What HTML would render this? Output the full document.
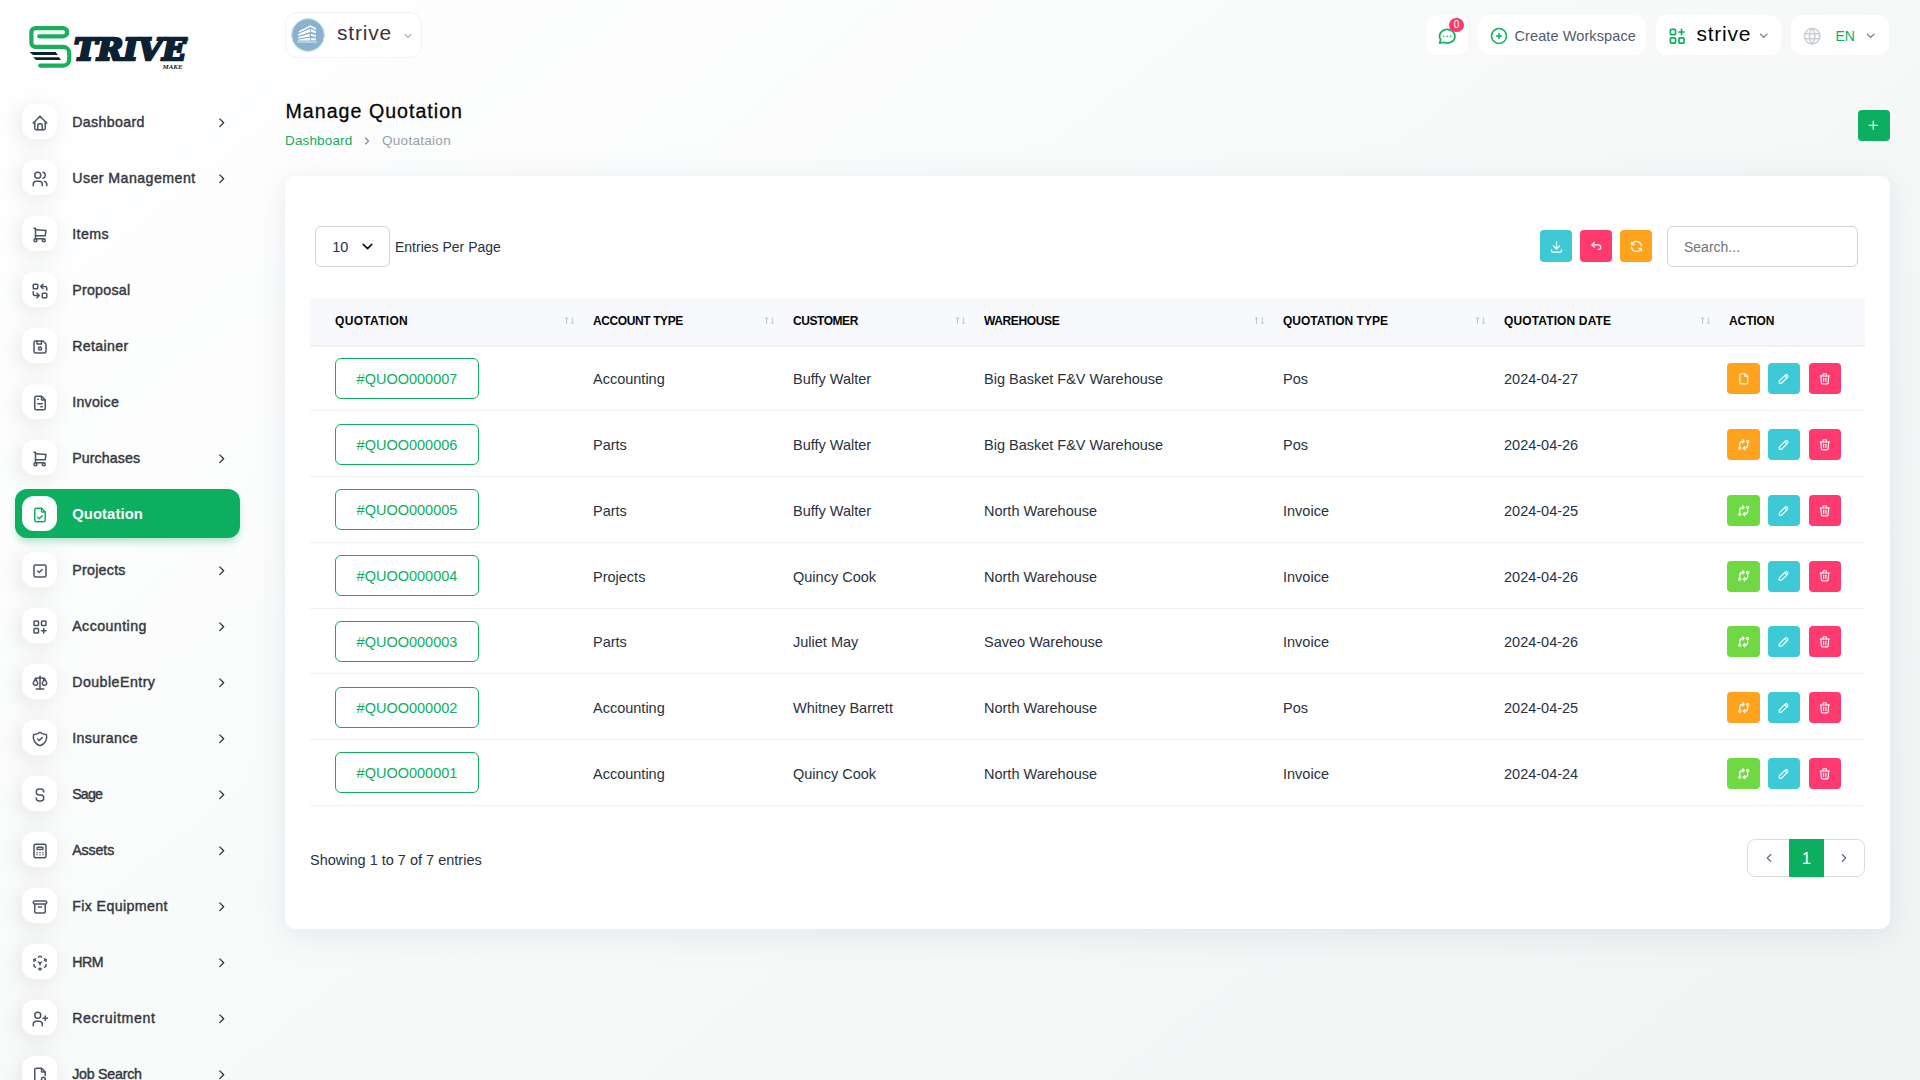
<!DOCTYPE html>
<html lang="en"><head><meta charset="utf-8"><title>Manage Quotation</title>
<style>
*{box-sizing:border-box;margin:0;padding:0}
html,body{width:1920px;height:1080px;overflow:hidden}
body{font-family:"Liberation Sans",sans-serif;font-size:14px;color:#293240;position:relative;
 background:linear-gradient(141.55deg,rgba(240,244,243,0) 3.46%,#f0f4f3 99.86%),#fff}
.ic{display:block;flex:none}
.abs{position:absolute}
/* sidebar */
nav{position:absolute;left:0;top:0;width:280px;height:1080px}
.logo{position:absolute;left:20px;top:15px}
.mi{position:absolute;left:15px;width:225px;height:49px;border-radius:12px;color:#34383e}
.mi .box{position:absolute;left:7px;top:7px;width:35px;height:35px;border-radius:12px;background:#fff;
 box-shadow:-3px 4px 23px rgba(0,0,0,.1);display:flex;align-items:center;justify-content:center;color:#4b5565;padding-top:3.500px}
.mi .t{position:absolute;left:57.200px;top:1px;line-height:49px;font-weight:400;font-size:14.200px;white-space:nowrap;-webkit-text-stroke:.42px currentColor}
.mi .ar{position:absolute;left:198.800px;top:18.100px;color:#333}
.mi.on{background:#0caf60;color:#fff;box-shadow:0 5px 7px -1px rgba(12,175,96,.3)}
.mi.on .box{color:#0caf60;box-shadow:none}
.mi.on .t{font-size:14.800px;font-weight:700;-webkit-text-stroke:0}
/* header */
.hb{position:absolute;top:15px;height:40px;background:#fff;border-radius:12px;display:flex;align-items:center}
.ws{position:absolute;left:285px;top:12px;width:137px;height:46px;background:#fff;border:1px solid #f1f1f1;border-radius:12px}
.ava{position:absolute;left:4.700px;top:4.700px;width:34.600px;height:34.600px;border-radius:50%;background:#8cb1d0;border:1px solid #c4ecd7;background-clip:padding-box}
.ava svg{position:absolute;left:-.7px;top:-.7px}
h4{position:absolute;left:285.500px;top:97.300px;font-size:19.600px;line-height:28px;font-weight:400;color:#060606;white-space:nowrap;-webkit-text-stroke:.3px #060606;letter-spacing:1.02px}
.bc{position:absolute;top:133.200px;font-size:13.500px;line-height:16px;white-space:nowrap}
.add{position:absolute;left:1858px;top:110px;width:32px;height:31px;border-radius:4px;background:#0caf60;color:#fff;display:flex;align-items:center;justify-content:center}
/* card */
.card{position:absolute;left:285px;top:176px;width:1605px;height:753px;background:#fff;border-radius:10px;box-shadow:0 6px 30px rgba(182,186,203,.3)}
.sel{position:absolute;left:30px;top:50px;width:75px;height:40.5px;border:1px solid #ced4da;border-radius:6px;background:#fff}
.sb{position:absolute;top:54px;width:32px;height:32px;border-radius:4px;color:#fff;display:flex;align-items:center;justify-content:center}
.search{position:absolute;left:1382px;top:50px;width:191px;height:40.5px;border:1px solid #ced4da;border-radius:6px;padding-left:16px;line-height:41px;color:#6c757d;font-size:14px}
table{position:absolute;left:25px;top:121.700px;width:1555px;border-collapse:separate;border-spacing:0;table-layout:fixed}
thead tr{background:#f8f9fd}
th{height:47px;text-align:left;padding-left:25px;font-size:12px;font-weight:700;color:#060606;position:relative;white-space:nowrap;letter-spacing:.1px}
td{height:65.750px;border-top:1px solid #f1f1f1;padding:17.700px 0 0 25px;font-size:14.500px;line-height:33px;color:#293240;white-space:nowrap;vertical-align:top}
tbody tr:first-child td{border-top-width:2px;padding-top:16.700px}
tbody tr:last-child td{height:66.750px;border-bottom:1px solid #f1f1f1}
.q{display:block;width:144px;height:40.800px;margin-top:-5.400px;border:1px solid #0caf60;border-radius:6px;color:#0caf60;text-align:center;line-height:40.800px;font-size:14.500px}
.srt{position:absolute;right:-6.500px;top:18px;color:#c6c7cc}
.acts{display:flex;margin-left:-2px}
.ab{width:32px;height:31px;border-radius:4px;color:#fff;display:flex;align-items:center;justify-content:center;margin-right:9px}
.ab.first{width:33px;margin-right:8px}
.w{background:#ffa21d}.i{background:#3ec9d6}.d{background:#ff3a6e}.s{background:#6fd943}
.info{position:absolute;left:25px;top:674px;line-height:20px;font-size:14.5px;white-space:nowrap}
.pg{position:absolute;left:1462px;top:663px;width:118px;height:38px;border:1px solid #d8dce3;border-radius:8px;background:#fff}
.pg .cur{position:absolute;left:41px;top:-1px;width:35px;height:38px;background:#0caf60;color:#fff;font-size:16px;line-height:40px;text-align:center}
</style></head>
<body>
<nav>
<svg class="logo" width="180" height="65" viewBox="20 15 180 65" role="img" aria-label="STRIVE MAKE"><title>STRIVE MAKE</title>
<path d="M39.2 36.3H63.100a4.100 4.100 0 0 0 0-8.200H35.500a4.100 4.100 0 0 0-4.100 4.100V42.800a4.100 4.100 0 0 0 4.100 4.100H63.100a6.100 6.100 0 0 1 6.100 6.100V59.500a6.100 6.100 0 0 1-6.100 6.100H40.200" fill="none" stroke="#1baf5d" stroke-width="4.200" stroke-linecap="round"/>
<path d="M29.500 52H55.800L57.700 55.100H33z" fill="#0c2233"/><path d="M33 57.200H59L61 60.100H36.200z" fill="#0c2233"/>
<circle cx="186.800" cy="39.600" r="1.900" fill="#1baf5d"/>
<text x="74" y="59.500" font-family="DejaVu Serif, Liberation Serif, serif" font-weight="700" font-style="italic" font-size="29.500" fill="#0c2233" stroke="#0c2233" stroke-width="2.500" stroke-linejoin="miter" textLength="112" lengthAdjust="spacingAndGlyphs">TRIVE</text>
<text x="162.500" y="68.700" font-family="Liberation Serif, serif" font-weight="700" font-style="italic" font-size="6.500" fill="#0c2233" textLength="20" lengthAdjust="spacingAndGlyphs">MAKE</text>
</svg>
<a class="mi" style="top:96.75px"><span class="box"><svg class="ic " width="18" height="18" viewBox="0 0 24 24" fill="none" stroke="currentColor" stroke-width="2" stroke-linecap="round" stroke-linejoin="round" style=""><path d="M5 12H3l9-9 9 9h-2"/><path d="M5 12v7a2 2 0 0 0 2 2h10a2 2 0 0 0 2-2v-7"/><path d="M9 21v-6a2 2 0 0 1 2-2h2a2 2 0 0 1 2 2v6"/></svg></span><span class="t" style="letter-spacing:0.36px">Dashboard</span><span class="ar"><svg class="ic " width="15.5" height="15.5" viewBox="0 0 24 24" fill="none" stroke="currentColor" stroke-width="2.05" stroke-linecap="round" stroke-linejoin="round" style=""><path d="M9 6l6 6-6 6"/></svg></span></a>
<a class="mi" style="top:152.75px"><span class="box"><svg class="ic " width="18" height="18" viewBox="0 0 24 24" fill="none" stroke="currentColor" stroke-width="2" stroke-linecap="round" stroke-linejoin="round" style=""><circle cx="9" cy="7" r="4"/><path d="M3 21v-2a4 4 0 0 1 4-4h4a4 4 0 0 1 4 4v2"/><path d="M16 3.13a4 4 0 0 1 0 7.75"/><path d="M21 21v-2a4 4 0 0 0-3-3.85"/></svg></span><span class="t" style="letter-spacing:0.45px">User Management</span><span class="ar"><svg class="ic " width="15.5" height="15.5" viewBox="0 0 24 24" fill="none" stroke="currentColor" stroke-width="2.05" stroke-linecap="round" stroke-linejoin="round" style=""><path d="M9 6l6 6-6 6"/></svg></span></a>
<a class="mi" style="top:208.75px"><span class="box"><svg class="ic " width="18" height="18" viewBox="0 0 24 24" fill="none" stroke="currentColor" stroke-width="2" stroke-linecap="round" stroke-linejoin="round" style=""><circle cx="6" cy="19" r="2"/><circle cx="17" cy="19" r="2"/><path d="M17 17H6V3H4"/><path d="M6 5l14 1-1 7H6"/></svg></span><span class="t" style="letter-spacing:0.45px">Items</span></a>
<a class="mi" style="top:264.75px"><span class="box"><svg class="ic " width="18" height="18" viewBox="0 0 24 24" fill="none" stroke="currentColor" stroke-width="2" stroke-linecap="round" stroke-linejoin="round" style=""><rect x="3" y="3" width="6" height="6" rx="1"/><rect x="15" y="15" width="6" height="6" rx="1"/><path d="M21 11V8a2 2 0 0 0-2-2h-6l3 3m0-6l-3 3"/><path d="M3 13v3a2 2 0 0 0 2 2h6l-3-3m0 6l3-3"/></svg></span><span class="t" style="letter-spacing:0.28px">Proposal</span></a>
<a class="mi" style="top:320.75px"><span class="box"><svg class="ic " width="18" height="18" viewBox="0 0 24 24" fill="none" stroke="currentColor" stroke-width="2" stroke-linecap="round" stroke-linejoin="round" style=""><path d="M6 4h10l4 4v10a2 2 0 0 1-2 2H6a2 2 0 0 1-2-2V6a2 2 0 0 1 2-2"/><circle cx="12" cy="14" r="2"/><path d="M14 4v4H8V4"/></svg></span><span class="t" style="letter-spacing:0.36px">Retainer</span></a>
<a class="mi" style="top:376.75px"><span class="box"><svg class="ic " width="18" height="18" viewBox="0 0 24 24" fill="none" stroke="currentColor" stroke-width="2" stroke-linecap="round" stroke-linejoin="round" style=""><path d="M14 3v4a1 1 0 0 0 1 1h4"/><path d="M17 21H7a2 2 0 0 1-2-2V5a2 2 0 0 1 2-2h7l5 5v11a2 2 0 0 1-2 2z"/><path d="M9 7h1"/><path d="M9 13h6"/><path d="M13 17h2"/></svg></span><span class="t" style="letter-spacing:0.28px">Invoice</span></a>
<a class="mi" style="top:432.75px"><span class="box"><svg class="ic " width="18" height="18" viewBox="0 0 24 24" fill="none" stroke="currentColor" stroke-width="2" stroke-linecap="round" stroke-linejoin="round" style=""><circle cx="6" cy="19" r="2"/><circle cx="17" cy="19" r="2"/><path d="M17 17H6V3H4"/><path d="M6 5l14 1-1 7H6"/></svg></span><span class="t" style="letter-spacing:0.1px">Purchases</span><span class="ar"><svg class="ic " width="15.5" height="15.5" viewBox="0 0 24 24" fill="none" stroke="currentColor" stroke-width="2.05" stroke-linecap="round" stroke-linejoin="round" style=""><path d="M9 6l6 6-6 6"/></svg></span></a>
<a class="mi on" style="top:488.75px"><span class="box"><svg class="ic " width="18" height="18" viewBox="0 0 24 24" fill="none" stroke="currentColor" stroke-width="2" stroke-linecap="round" stroke-linejoin="round" style=""><path d="M14 3v4a1 1 0 0 0 1 1h4"/><path d="M17 21H7a2 2 0 0 1-2-2V5a2 2 0 0 1 2-2h7l5 5v11a2 2 0 0 1-2 2z"/><path d="M9 15l2 2 4-4"/></svg></span><span class="t" style="letter-spacing:0.1px">Quotation</span></a>
<a class="mi" style="top:544.75px"><span class="box"><svg class="ic " width="18" height="18" viewBox="0 0 24 24" fill="none" stroke="currentColor" stroke-width="2" stroke-linecap="round" stroke-linejoin="round" style=""><rect x="4" y="4" width="16" height="16" rx="2"/><path d="M9 12l2 2 4-4"/></svg></span><span class="t" style="letter-spacing:0.29px">Projects</span><span class="ar"><svg class="ic " width="15.5" height="15.5" viewBox="0 0 24 24" fill="none" stroke="currentColor" stroke-width="2.05" stroke-linecap="round" stroke-linejoin="round" style=""><path d="M9 6l6 6-6 6"/></svg></span></a>
<a class="mi" style="top:600.75px"><span class="box"><svg class="ic " width="18" height="18" viewBox="0 0 24 24" fill="none" stroke="currentColor" stroke-width="2" stroke-linecap="round" stroke-linejoin="round" style=""><rect x="4" y="4" width="6" height="6" rx="1"/><rect x="14" y="4" width="6" height="6" rx="1"/><rect x="4" y="14" width="6" height="6" rx="1"/><path d="M14 17h6m-3-3v6"/></svg></span><span class="t" style="letter-spacing:0.45px">Accounting</span><span class="ar"><svg class="ic " width="15.5" height="15.5" viewBox="0 0 24 24" fill="none" stroke="currentColor" stroke-width="2.05" stroke-linecap="round" stroke-linejoin="round" style=""><path d="M9 6l6 6-6 6"/></svg></span></a>
<a class="mi" style="top:656.75px"><span class="box"><svg class="ic " width="18" height="18" viewBox="0 0 24 24" fill="none" stroke="currentColor" stroke-width="2" stroke-linecap="round" stroke-linejoin="round" style=""><path d="M7 20h10"/><path d="M6 6l6-1 6 1"/><path d="M12 3v17"/><path d="M9 12L6 6l-3 6a3 3 0 0 0 6 0"/><path d="M21 12l-3-6-3 6a3 3 0 0 0 6 0"/></svg></span><span class="t" style="letter-spacing:0.47px">DoubleEntry</span><span class="ar"><svg class="ic " width="15.5" height="15.5" viewBox="0 0 24 24" fill="none" stroke="currentColor" stroke-width="2.05" stroke-linecap="round" stroke-linejoin="round" style=""><path d="M9 6l6 6-6 6"/></svg></span></a>
<a class="mi" style="top:712.75px"><span class="box"><svg class="ic " width="18" height="18" viewBox="0 0 24 24" fill="none" stroke="currentColor" stroke-width="2" stroke-linecap="round" stroke-linejoin="round" style=""><path d="M9 12l2 2 4-4"/><path d="M12 3a12 12 0 0 0 8.500 3a12 12 0 0 1-8.500 15a12 12 0 0 1-8.500-15a12 12 0 0 0 8.500-3"/></svg></span><span class="t" style="letter-spacing:0.4px">Insurance</span><span class="ar"><svg class="ic " width="15.5" height="15.5" viewBox="0 0 24 24" fill="none" stroke="currentColor" stroke-width="2.05" stroke-linecap="round" stroke-linejoin="round" style=""><path d="M9 6l6 6-6 6"/></svg></span></a>
<a class="mi" style="top:768.75px"><span class="box"><svg class="ic " width="18" height="18" viewBox="0 0 24 24" fill="none" stroke="currentColor" stroke-width="2" stroke-linecap="round" stroke-linejoin="round" style=""><path d="M17 8a4 4 0 0 0-4-4h-2a4 4 0 0 0 0 8h2a4 4 0 0 1 0 8h-2a4 4 0 0 1-4-4"/></svg></span><span class="t" style="letter-spacing:-0.81px">Sage</span><span class="ar"><svg class="ic " width="15.5" height="15.5" viewBox="0 0 24 24" fill="none" stroke="currentColor" stroke-width="2.05" stroke-linecap="round" stroke-linejoin="round" style=""><path d="M9 6l6 6-6 6"/></svg></span></a>
<a class="mi" style="top:824.75px"><span class="box"><svg class="ic " width="18" height="18" viewBox="0 0 24 24" fill="none" stroke="currentColor" stroke-width="2" stroke-linecap="round" stroke-linejoin="round" style=""><rect x="4" y="3" width="16" height="18" rx="2"/><rect x="8" y="7" width="8" height="3" rx="1"/><path d="M8 14v.01M12 14v.01M16 14v.01M8 17v.01M12 17v.01M16 17v.01"/></svg></span><span class="t" style="letter-spacing:-0.1px">Assets</span><span class="ar"><svg class="ic " width="15.5" height="15.5" viewBox="0 0 24 24" fill="none" stroke="currentColor" stroke-width="2.05" stroke-linecap="round" stroke-linejoin="round" style=""><path d="M9 6l6 6-6 6"/></svg></span></a>
<a class="mi" style="top:880.75px"><span class="box"><svg class="ic " width="18" height="18" viewBox="0 0 24 24" fill="none" stroke="currentColor" stroke-width="2" stroke-linecap="round" stroke-linejoin="round" style=""><rect x="3" y="4" width="18" height="4" rx="2"/><path d="M5 8v10a2 2 0 0 0 2 2h10a2 2 0 0 0 2-2V8"/><path d="M10 12h4"/></svg></span><span class="t" style="letter-spacing:0.39px">Fix Equipment</span><span class="ar"><svg class="ic " width="15.5" height="15.5" viewBox="0 0 24 24" fill="none" stroke="currentColor" stroke-width="2.05" stroke-linecap="round" stroke-linejoin="round" style=""><path d="M9 6l6 6-6 6"/></svg></span></a>
<a class="mi" style="top:936.75px"><span class="box"><svg class="ic " width="18" height="18" viewBox="0 0 24 24" fill="none" stroke="currentColor" stroke-width="2" stroke-linecap="round" stroke-linejoin="round" style=""><path d="M6 17.600l-2-1.100v-2.500"/><path d="M4 10V7.500l2-1.100"/><path d="M10 4.100l2-1.100 2 1.100"/><path d="M18 6.400l2 1.100V10"/><path d="M20 14v2.500l-2 1.120"/><path d="M14 19.900L12 21l-2-1.100"/><path d="M12 12l2-1.100"/><path d="M18 8.600l2-1.100"/><path d="M12 12v2.500"/><path d="M12 18.500V21"/><path d="M12 12l-2-1.120"/><path d="M6 8.600L4 7.500"/></svg></span><span class="t" style="letter-spacing:-0.52px">HRM</span><span class="ar"><svg class="ic " width="15.5" height="15.5" viewBox="0 0 24 24" fill="none" stroke="currentColor" stroke-width="2.05" stroke-linecap="round" stroke-linejoin="round" style=""><path d="M9 6l6 6-6 6"/></svg></span></a>
<a class="mi" style="top:992.75px"><span class="box"><svg class="ic " width="18" height="18" viewBox="0 0 24 24" fill="none" stroke="currentColor" stroke-width="2" stroke-linecap="round" stroke-linejoin="round" style=""><circle cx="9" cy="7" r="4"/><path d="M3 21v-2a4 4 0 0 1 4-4h4a4 4 0 0 1 4 4v2"/><path d="M16 11h6m-3-3v6"/></svg></span><span class="t" style="letter-spacing:0.63px">Recruitment</span><span class="ar"><svg class="ic " width="15.5" height="15.5" viewBox="0 0 24 24" fill="none" stroke="currentColor" stroke-width="2.05" stroke-linecap="round" stroke-linejoin="round" style=""><path d="M9 6l6 6-6 6"/></svg></span></a>
<a class="mi" style="top:1048.75px"><span class="box"><svg class="ic " width="18" height="18" viewBox="0 0 24 24" fill="none" stroke="currentColor" stroke-width="2" stroke-linecap="round" stroke-linejoin="round" style=""><path d="M14 3v4a1 1 0 0 0 1 1h4"/><path d="M12 21H7a2 2 0 0 1-2-2V5a2 2 0 0 1 2-2h7l5 5v4.500"/><circle cx="16.500" cy="17.500" r="2.500"/><path d="M18.500 19.500L21 22"/></svg></span><span class="t" style="letter-spacing:-0.22px">Job Search</span><span class="ar"><svg class="ic " width="15.5" height="15.5" viewBox="0 0 24 24" fill="none" stroke="currentColor" stroke-width="2.05" stroke-linecap="round" stroke-linejoin="round" style=""><path d="M9 6l6 6-6 6"/></svg></span></a>
</nav>
<header>
<div class="ws"><span class="ava"><svg width="34" height="34" viewBox="0 0 34 34"><g fill="#fff">
<path d="M7.700 13.200L19.400 7.300L25 10.300V12L19.400 9.100L8.200 14.400z"/>
<path d="M7.100 16.100L19 11V14L7.100 17.900z"/><path d="M19.900 11L24.900 13.300V15.200L19.900 13.800z"/>
<path d="M7.100 19.300L18.600 15.800V18.400L7.100 20.400z"/><path d="M19.900 15.800L24.900 17.200V18.900L19.900 18z"/>
<path d="M7.800 21.600L19 19.800V22.600H7.400z"/><path d="M19.900 20L24.900 20.500V22.300H19.900z"/>
<rect x="6" y="22.800" width="20.200" height="2.200" opacity=".38"/></g></svg></span>
<span class="abs" style="left:51px;top:5.600px;font-size:21px;line-height:28px;color:#45303a;letter-spacing:.8px">strive</span>
<span class="abs" style="left:116px;top:17px;color:#6b7280"><svg class="ic " width="12" height="12" viewBox="0 0 24 24" fill="none" stroke="currentColor" stroke-width="2" stroke-linecap="round" stroke-linejoin="round" style=""><path d="M6 9l6 6 6-6"/></svg></span></div>
<div class="hb" style="left:1426px;width:42px"><span class="abs" style="left:11px;top:11px;color:#0caf60"><svg class="ic " width="20.5" height="20.5" viewBox="0 0 24 24" fill="none" stroke="currentColor" stroke-width="1.9" stroke-linecap="round" stroke-linejoin="round" style=""><path d="M3 20l1.300-3.900a9 8 0 1 1 3.400 2.900L3 20"/><path d="M12 12v.01M8 12v.01M16 12v.01"/></svg></span><span class="abs" style="left:23.300px;top:2.800px;width:14.600px;height:14.600px;border-radius:50%;background:#ff3a6e;color:#fff;font-size:10px;line-height:14.600px;text-align:center">0</span></div>
<div class="hb" style="left:1478px;width:168px"><span class="abs" style="left:11px;top:10.500px;color:#0caf60"><svg class="ic " width="20" height="20" viewBox="0 0 24 24" fill="none" stroke="currentColor" stroke-width="1.9" stroke-linecap="round" stroke-linejoin="round" style=""><circle cx="12" cy="12" r="9"/><path d="M9 12h6M12 9v6"/></svg></span><span class="abs" style="left:36.500px;top:10.700px;line-height:20px;font-size:14.500px;color:#525b69;white-space:nowrap;letter-spacing:.1px">Create Workspace</span></div>
<div class="hb" style="left:1656px;width:125px"><span class="abs" style="left:11px;top:10.500px;color:#0caf60"><svg class="ic " width="20.5" height="20.5" viewBox="0 0 24 24" fill="none" stroke="currentColor" stroke-width="2" stroke-linecap="round" stroke-linejoin="round" style=""><rect x="4" y="4" width="6" height="6" rx="1"/><rect x="4" y="14" width="6" height="6" rx="1"/><rect x="14" y="14" width="6" height="6" rx="1"/><path d="M14 7h6m-3-3v6"/></svg></span><span class="abs" style="left:40.500px;top:5.400px;font-size:21px;line-height:28px;color:#060606;letter-spacing:.75px">strive</span><span class="abs" style="left:100.500px;top:13.500px;color:#6b7280"><svg class="ic " width="13.5" height="13.5" viewBox="0 0 24 24" fill="none" stroke="currentColor" stroke-width="2" stroke-linecap="round" stroke-linejoin="round" style=""><path d="M6 9l6 6 6-6"/></svg></span></div>
<div class="hb" style="left:1791px;width:98px"><span class="abs" style="left:10.500px;top:10.500px;color:#c9cdd4"><svg class="ic " width="20.5" height="20.5" viewBox="0 0 24 24" fill="none" stroke="currentColor" stroke-width="1.8" stroke-linecap="round" stroke-linejoin="round" style=""><circle cx="12" cy="12" r="9"/><path d="M3.600 9h16.800M3.600 15h16.800"/><path d="M11.500 3a17 17 0 0 0 0 18"/><path d="M12.500 3a17 17 0 0 1 0 18"/></svg></span><span class="abs" style="left:44.500px;top:10.800px;line-height:20px;font-size:14px;color:#0caf60">EN</span><span class="abs" style="left:73px;top:13.500px;color:#6b7280"><svg class="ic " width="13.5" height="13.5" viewBox="0 0 24 24" fill="none" stroke="currentColor" stroke-width="2" stroke-linecap="round" stroke-linejoin="round" style=""><path d="M6 9l6 6 6-6"/></svg></span></div>
</header>
<main>
<h4>Manage Quotation</h4>
<span class="bc" style="left:285px;color:#0caf60;letter-spacing:.15px">Dashboard</span><span class="bc" style="left:361px;top:134.500px;color:#7d838c"><svg class="ic " width="12" height="12" viewBox="0 0 24 24" fill="none" stroke="currentColor" stroke-width="2.3" stroke-linecap="round" stroke-linejoin="round" style=""><path d="M9 6l6 6-6 6"/></svg></span><span class="bc" style="left:382px;color:#9a9fa7;letter-spacing:.29px">Quotataion</span>
<a class="add" style="padding-right:.6px"><svg class="ic " width="14.5" height="14.5" viewBox="0 0 24 24" fill="none" stroke="currentColor" stroke-width="1.9" stroke-linecap="round" stroke-linejoin="round" style=""><path d="M12 5v14M5 12h14"/></svg></a>
<section class="card">
<div class="sel"><span class="abs" style="left:16.300px;top:0;line-height:41px;font-size:14.500px;color:#293240">10</span><span class="abs" style="left:43px;top:10.500px;color:#111"><svg class="ic " width="17" height="17" viewBox="0 0 24 24" fill="none" stroke="currentColor" stroke-width="2.2" stroke-linecap="round" stroke-linejoin="round" style=""><path d="M6 9l6 6 6-6"/></svg></span></div><span class="abs" style="left:110px;top:60.500px;line-height:20px;font-size:14px;white-space:nowrap">Entries Per Page</span>
<a class="sb i" style="left:1255px"><svg class="ic " width="15" height="15" viewBox="0 0 24 24" fill="none" stroke="currentColor" stroke-width="2" stroke-linecap="round" stroke-linejoin="round" style=""><path d="M4 17v2a2 2 0 0 0 2 2h12a2 2 0 0 0 2-2v-2"/><path d="M7 11l5 5 5-5"/><path d="M12 4v12"/></svg></a><a class="sb d" style="left:1295px"><svg class="ic " width="14" height="14" viewBox="0 0 24 24" fill="none" stroke="currentColor" stroke-width="2" stroke-linecap="round" stroke-linejoin="round" style=""><path d="M9 14l-4-4 4-4"/><path d="M5 10h11a4 4 0 1 1 0 8h-1"/></svg></a><a class="sb w" style="left:1335px"><svg class="ic " width="15" height="15" viewBox="0 0 24 24" fill="none" stroke="currentColor" stroke-width="2" stroke-linecap="round" stroke-linejoin="round" style=""><path d="M20 11A8.100 8.100 0 0 0 4.500 9M4 5v4h4"/><path d="M4 13a8.100 8.100 0 0 0 15.500 2M20 19v-4h-4"/></svg></a>
<div class="search">Search...</div>
<table><colgroup><col style="width:258px"><col style="width:200px"><col style="width:191px"><col style="width:299px"><col style="width:221px"><col style="width:225px"><col style="width:161px"></colgroup>
<thead><tr><th style="letter-spacing:0.32px">QUOTATION<svg class="srt" width="11" height="9" viewBox="0 0 11 9" fill="none" stroke="currentColor" stroke-width="1"><path d="M2.500 8.100V1.500M1 3L2.500 1.500L4 3M8.400 1.300V7.900M6.900 6.400L8.400 7.900L9.900 6.400"/></svg></th><th style="letter-spacing:-0.4px">ACCOUNT TYPE<svg class="srt" width="11" height="9" viewBox="0 0 11 9" fill="none" stroke="currentColor" stroke-width="1"><path d="M2.500 8.100V1.500M1 3L2.500 1.500L4 3M8.400 1.300V7.900M6.900 6.400L8.400 7.900L9.900 6.400"/></svg></th><th style="letter-spacing:-0.45px">CUSTOMER<svg class="srt" width="11" height="9" viewBox="0 0 11 9" fill="none" stroke="currentColor" stroke-width="1"><path d="M2.500 8.100V1.500M1 3L2.500 1.500L4 3M8.400 1.300V7.900M6.900 6.400L8.400 7.900L9.900 6.400"/></svg></th><th style="letter-spacing:-0.38px">WAREHOUSE<svg class="srt" width="11" height="9" viewBox="0 0 11 9" fill="none" stroke="currentColor" stroke-width="1"><path d="M2.500 8.100V1.500M1 3L2.500 1.500L4 3M8.400 1.300V7.900M6.900 6.400L8.400 7.900L9.900 6.400"/></svg></th><th style="letter-spacing:0px">QUOTATION TYPE<svg class="srt" width="11" height="9" viewBox="0 0 11 9" fill="none" stroke="currentColor" stroke-width="1"><path d="M2.500 8.100V1.500M1 3L2.500 1.500L4 3M8.400 1.300V7.900M6.900 6.400L8.400 7.900L9.900 6.400"/></svg></th><th style="letter-spacing:0.13px">QUOTATION DATE<svg class="srt" width="11" height="9" viewBox="0 0 11 9" fill="none" stroke="currentColor" stroke-width="1"><path d="M2.500 8.100V1.500M1 3L2.500 1.500L4 3M8.400 1.300V7.900M6.900 6.400L8.400 7.900L9.900 6.400"/></svg></th><th style="letter-spacing:-0.1px">ACTION</th></tr></thead>
<tbody>
<tr><td><a class="q">#QUOO000007</a></td><td>Accounting</td><td>Buffy Walter</td><td>Big Basket F&amp;V Warehouse</td><td>Pos</td><td>2024-04-27</td><td><div class="acts"><a class="ab first w"><svg class="ic " width="13.5" height="13.5" viewBox="0 0 24 24" fill="none" stroke="currentColor" stroke-width="2" stroke-linecap="round" stroke-linejoin="round" style=""><path d="M14 3v4a1 1 0 0 0 1 1h4"/><path d="M17 21H7a2 2 0 0 1-2-2V5a2 2 0 0 1 2-2h7l5 5v11a2 2 0 0 1-2 2z"/></svg></a><a class="ab i"><svg class="ic " width="13.5" height="13.5" viewBox="0 0 24 24" fill="none" stroke="currentColor" stroke-width="2" stroke-linecap="round" stroke-linejoin="round" style=""><path d="M4 20h4L18.500 9.500a2.828 2.828 0 1 0-4-4L4 16v4"/><path d="M13.500 6.500l4 4"/></svg></a><a class="ab d"><svg class="ic " width="13.5" height="13.5" viewBox="0 0 24 24" fill="none" stroke="currentColor" stroke-width="2" stroke-linecap="round" stroke-linejoin="round" style=""><path d="M4 7h16"/><path d="M10 11v6"/><path d="M14 11v6"/><path d="M5 7l1 12a2 2 0 0 0 2 2h8a2 2 0 0 0 2-2l1-12"/><path d="M9 7V4a1 1 0 0 1 1-1h4a1 1 0 0 1 1 1v3"/></svg></a></div></td></tr>
<tr><td><a class="q">#QUOO000006</a></td><td>Parts</td><td>Buffy Walter</td><td>Big Basket F&amp;V Warehouse</td><td>Pos</td><td>2024-04-26</td><td><div class="acts"><a class="ab first w"><svg class="ic " width="13.5" height="13.5" viewBox="0 0 24 24" fill="none" stroke="currentColor" stroke-width="2" stroke-linecap="round" stroke-linejoin="round" style=""><circle cx="5" cy="18" r="2"/><circle cx="19" cy="6" r="2"/><path d="M19 8v5a5 5 0 0 1-5 5h-3l3-3m0 6l-3-3"/><path d="M5 16v-5a5 5 0 0 1 5-5h3l-3-3m0 6l3-3"/></svg></a><a class="ab i"><svg class="ic " width="13.5" height="13.5" viewBox="0 0 24 24" fill="none" stroke="currentColor" stroke-width="2" stroke-linecap="round" stroke-linejoin="round" style=""><path d="M4 20h4L18.500 9.500a2.828 2.828 0 1 0-4-4L4 16v4"/><path d="M13.500 6.500l4 4"/></svg></a><a class="ab d"><svg class="ic " width="13.5" height="13.5" viewBox="0 0 24 24" fill="none" stroke="currentColor" stroke-width="2" stroke-linecap="round" stroke-linejoin="round" style=""><path d="M4 7h16"/><path d="M10 11v6"/><path d="M14 11v6"/><path d="M5 7l1 12a2 2 0 0 0 2 2h8a2 2 0 0 0 2-2l1-12"/><path d="M9 7V4a1 1 0 0 1 1-1h4a1 1 0 0 1 1 1v3"/></svg></a></div></td></tr>
<tr><td><a class="q">#QUOO000005</a></td><td>Parts</td><td>Buffy Walter</td><td>North Warehouse</td><td>Invoice</td><td>2024-04-25</td><td><div class="acts"><a class="ab first s"><svg class="ic " width="13.5" height="13.5" viewBox="0 0 24 24" fill="none" stroke="currentColor" stroke-width="2" stroke-linecap="round" stroke-linejoin="round" style=""><circle cx="5" cy="18" r="2"/><circle cx="19" cy="6" r="2"/><path d="M19 8v5a5 5 0 0 1-5 5h-3l3-3m0 6l-3-3"/><path d="M5 16v-5a5 5 0 0 1 5-5h3l-3-3m0 6l3-3"/></svg></a><a class="ab i"><svg class="ic " width="13.5" height="13.5" viewBox="0 0 24 24" fill="none" stroke="currentColor" stroke-width="2" stroke-linecap="round" stroke-linejoin="round" style=""><path d="M4 20h4L18.500 9.500a2.828 2.828 0 1 0-4-4L4 16v4"/><path d="M13.500 6.500l4 4"/></svg></a><a class="ab d"><svg class="ic " width="13.5" height="13.5" viewBox="0 0 24 24" fill="none" stroke="currentColor" stroke-width="2" stroke-linecap="round" stroke-linejoin="round" style=""><path d="M4 7h16"/><path d="M10 11v6"/><path d="M14 11v6"/><path d="M5 7l1 12a2 2 0 0 0 2 2h8a2 2 0 0 0 2-2l1-12"/><path d="M9 7V4a1 1 0 0 1 1-1h4a1 1 0 0 1 1 1v3"/></svg></a></div></td></tr>
<tr><td><a class="q">#QUOO000004</a></td><td>Projects</td><td>Quincy Cook</td><td>North Warehouse</td><td>Invoice</td><td>2024-04-26</td><td><div class="acts"><a class="ab first s"><svg class="ic " width="13.5" height="13.5" viewBox="0 0 24 24" fill="none" stroke="currentColor" stroke-width="2" stroke-linecap="round" stroke-linejoin="round" style=""><circle cx="5" cy="18" r="2"/><circle cx="19" cy="6" r="2"/><path d="M19 8v5a5 5 0 0 1-5 5h-3l3-3m0 6l-3-3"/><path d="M5 16v-5a5 5 0 0 1 5-5h3l-3-3m0 6l3-3"/></svg></a><a class="ab i"><svg class="ic " width="13.5" height="13.5" viewBox="0 0 24 24" fill="none" stroke="currentColor" stroke-width="2" stroke-linecap="round" stroke-linejoin="round" style=""><path d="M4 20h4L18.500 9.500a2.828 2.828 0 1 0-4-4L4 16v4"/><path d="M13.500 6.500l4 4"/></svg></a><a class="ab d"><svg class="ic " width="13.5" height="13.5" viewBox="0 0 24 24" fill="none" stroke="currentColor" stroke-width="2" stroke-linecap="round" stroke-linejoin="round" style=""><path d="M4 7h16"/><path d="M10 11v6"/><path d="M14 11v6"/><path d="M5 7l1 12a2 2 0 0 0 2 2h8a2 2 0 0 0 2-2l1-12"/><path d="M9 7V4a1 1 0 0 1 1-1h4a1 1 0 0 1 1 1v3"/></svg></a></div></td></tr>
<tr><td><a class="q">#QUOO000003</a></td><td>Parts</td><td>Juliet May</td><td>Saveo Warehouse</td><td>Invoice</td><td>2024-04-26</td><td><div class="acts"><a class="ab first s"><svg class="ic " width="13.5" height="13.5" viewBox="0 0 24 24" fill="none" stroke="currentColor" stroke-width="2" stroke-linecap="round" stroke-linejoin="round" style=""><circle cx="5" cy="18" r="2"/><circle cx="19" cy="6" r="2"/><path d="M19 8v5a5 5 0 0 1-5 5h-3l3-3m0 6l-3-3"/><path d="M5 16v-5a5 5 0 0 1 5-5h3l-3-3m0 6l3-3"/></svg></a><a class="ab i"><svg class="ic " width="13.5" height="13.5" viewBox="0 0 24 24" fill="none" stroke="currentColor" stroke-width="2" stroke-linecap="round" stroke-linejoin="round" style=""><path d="M4 20h4L18.500 9.500a2.828 2.828 0 1 0-4-4L4 16v4"/><path d="M13.500 6.500l4 4"/></svg></a><a class="ab d"><svg class="ic " width="13.5" height="13.5" viewBox="0 0 24 24" fill="none" stroke="currentColor" stroke-width="2" stroke-linecap="round" stroke-linejoin="round" style=""><path d="M4 7h16"/><path d="M10 11v6"/><path d="M14 11v6"/><path d="M5 7l1 12a2 2 0 0 0 2 2h8a2 2 0 0 0 2-2l1-12"/><path d="M9 7V4a1 1 0 0 1 1-1h4a1 1 0 0 1 1 1v3"/></svg></a></div></td></tr>
<tr><td><a class="q">#QUOO000002</a></td><td>Accounting</td><td>Whitney Barrett</td><td>North Warehouse</td><td>Pos</td><td>2024-04-25</td><td><div class="acts"><a class="ab first w"><svg class="ic " width="13.5" height="13.5" viewBox="0 0 24 24" fill="none" stroke="currentColor" stroke-width="2" stroke-linecap="round" stroke-linejoin="round" style=""><circle cx="5" cy="18" r="2"/><circle cx="19" cy="6" r="2"/><path d="M19 8v5a5 5 0 0 1-5 5h-3l3-3m0 6l-3-3"/><path d="M5 16v-5a5 5 0 0 1 5-5h3l-3-3m0 6l3-3"/></svg></a><a class="ab i"><svg class="ic " width="13.5" height="13.5" viewBox="0 0 24 24" fill="none" stroke="currentColor" stroke-width="2" stroke-linecap="round" stroke-linejoin="round" style=""><path d="M4 20h4L18.500 9.500a2.828 2.828 0 1 0-4-4L4 16v4"/><path d="M13.500 6.500l4 4"/></svg></a><a class="ab d"><svg class="ic " width="13.5" height="13.5" viewBox="0 0 24 24" fill="none" stroke="currentColor" stroke-width="2" stroke-linecap="round" stroke-linejoin="round" style=""><path d="M4 7h16"/><path d="M10 11v6"/><path d="M14 11v6"/><path d="M5 7l1 12a2 2 0 0 0 2 2h8a2 2 0 0 0 2-2l1-12"/><path d="M9 7V4a1 1 0 0 1 1-1h4a1 1 0 0 1 1 1v3"/></svg></a></div></td></tr>
<tr><td><a class="q">#QUOO000001</a></td><td>Accounting</td><td>Quincy Cook</td><td>North Warehouse</td><td>Invoice</td><td>2024-04-24</td><td><div class="acts"><a class="ab first s"><svg class="ic " width="13.5" height="13.5" viewBox="0 0 24 24" fill="none" stroke="currentColor" stroke-width="2" stroke-linecap="round" stroke-linejoin="round" style=""><circle cx="5" cy="18" r="2"/><circle cx="19" cy="6" r="2"/><path d="M19 8v5a5 5 0 0 1-5 5h-3l3-3m0 6l-3-3"/><path d="M5 16v-5a5 5 0 0 1 5-5h3l-3-3m0 6l3-3"/></svg></a><a class="ab i"><svg class="ic " width="13.5" height="13.5" viewBox="0 0 24 24" fill="none" stroke="currentColor" stroke-width="2" stroke-linecap="round" stroke-linejoin="round" style=""><path d="M4 20h4L18.500 9.500a2.828 2.828 0 1 0-4-4L4 16v4"/><path d="M13.500 6.500l4 4"/></svg></a><a class="ab d"><svg class="ic " width="13.5" height="13.5" viewBox="0 0 24 24" fill="none" stroke="currentColor" stroke-width="2" stroke-linecap="round" stroke-linejoin="round" style=""><path d="M4 7h16"/><path d="M10 11v6"/><path d="M14 11v6"/><path d="M5 7l1 12a2 2 0 0 0 2 2h8a2 2 0 0 0 2-2l1-12"/><path d="M9 7V4a1 1 0 0 1 1-1h4a1 1 0 0 1 1 1v3"/></svg></a></div></td></tr>
</tbody></table>
<div class="info">Showing 1 to 7 of 7 entries</div>
<div class="pg"><span class="abs" style="left:14px;top:11px;color:#5b6b8c"><svg class="ic " width="14" height="14" viewBox="0 0 24 24" fill="none" stroke="currentColor" stroke-width="2" stroke-linecap="round" stroke-linejoin="round" style=""><path d="M15 6l-6 6 6 6"/></svg></span><span class="cur">1</span><span class="abs" style="left:89px;top:11px;color:#5b6b8c"><svg class="ic " width="14" height="14" viewBox="0 0 24 24" fill="none" stroke="currentColor" stroke-width="2" stroke-linecap="round" stroke-linejoin="round" style=""><path d="M9 6l6 6-6 6"/></svg></span></div>
</section>
</main>
</body></html>
